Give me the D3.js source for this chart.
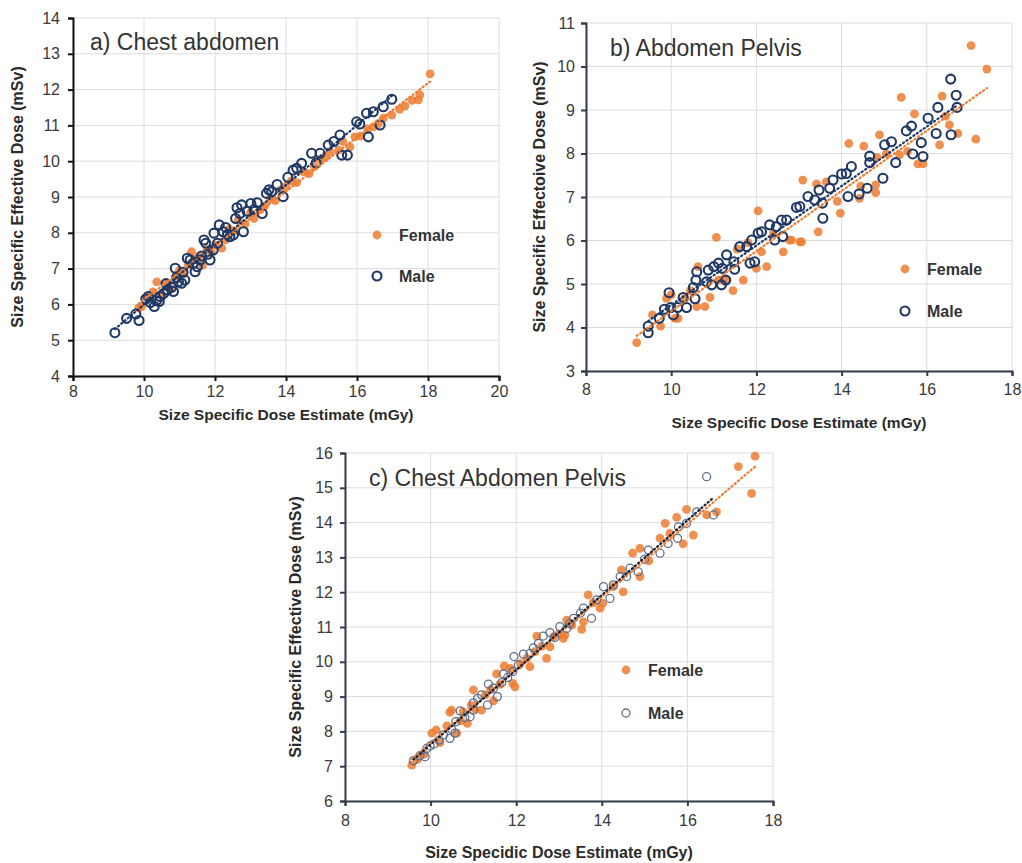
<!DOCTYPE html>
<html>
<head>
<meta charset="utf-8">
<script src="https://cdn.jsdelivr.net/npm/d3@7/dist/d3.min.js"></script>
<style>
    body { margin: 0; background: #fff; }
    text { font-family: Arial, "Liberation Sans", sans-serif; }
</style>
</head>
<body>
<svg id="chart" width="1022" height="863"></svg>
<script>
// a) Chest abdomen
var aMale = [[9.18,5.21],[9.51,5.61],[9.77,5.73],[9.86,5.55],[10.05,6.15],[10.12,6.22],[10.18,6.05],[10.29,5.94],[10.35,6.10],[10.43,6.08],
    [10.45,6.22],[10.55,6.30],[10.66,6.40],[10.78,6.48],[10.83,6.36],[10.88,7.01],[10.92,6.75],[10.97,6.63],[11.06,6.59],[11.15,6.68],
    [11.22,7.29],[11.30,7.24],[11.39,7.15],[11.44,6.91],[11.50,7.05],[11.58,7.24],[11.69,7.80],[11.74,7.71],[11.80,7.40],[11.86,7.24],
    [11.95,7.52],[11.97,7.99],[12.07,7.71],[12.12,8.22],[12.23,8.03],[12.35,7.95],[12.42,7.89],[12.52,7.94],[12.58,8.40],[12.70,8.54],
    [12.75,8.78],[12.80,8.03],[12.90,8.60],[13.01,8.82],[13.19,8.84],[13.33,8.54],[13.45,9.10],[13.60,9.15],[13.75,9.35],[13.92,9.01],
    [14.05,9.55],[14.20,9.75],[14.30,9.80],[14.44,9.94],[14.72,10.22],[14.85,9.95],[14.96,10.22],[15.19,10.45],[15.35,10.55],[15.52,10.73],
    [15.57,10.17],[15.73,10.17],[15.99,11.10],[16.08,11.04],[16.27,11.34],[16.32,10.68],[16.46,11.38],[16.65,11.01],[16.74,11.52],[16.98,11.73],
    [10.62,6.58],[11.10,6.90],[11.62,7.35],[12.30,8.15],[12.62,8.70],[13.10,8.65],[13.52,9.20]];
var aFemale = [[9.85,5.90],[9.93,5.94],[10.10,6.20],[10.25,6.35],[10.36,6.63],[10.50,6.25],[10.62,6.55],[10.75,6.45],[10.90,6.80],[11.00,6.95],
    [11.12,6.85],[11.25,7.10],[11.34,7.47],[11.42,7.25],[11.55,7.35],[11.65,7.10],[11.78,7.55],[11.90,7.45],[12.02,7.65],[12.19,7.57],
    [12.30,7.80],[12.40,8.10],[12.55,8.05],[12.65,8.35],[12.85,8.25],[13.00,8.55],[13.10,8.40],[13.27,8.64],[13.40,8.75],[13.55,8.95],
    [13.70,8.90],[13.85,9.20],[14.00,9.30],[14.15,9.45],[14.30,9.40],[14.50,9.70],[14.65,9.65],[14.80,9.85],[14.95,10.05],[15.10,10.10],
    [15.25,10.25],[15.48,10.31],[15.60,10.55],[15.80,10.40],[15.94,10.68],[16.10,10.70],[16.30,10.90],[16.46,10.96],[16.60,11.05],[16.74,11.20],
    [16.98,11.29],[17.20,11.45],[17.35,11.54],[17.55,11.70],[17.73,11.71],[17.77,11.85],[18.06,12.44]];
var aXTicks = [8, 10, 12, 14, 16, 18, 20];
var aYTicks = [4, 5, 6, 7, 8, 9, 10, 11, 12, 13, 14];

// b) Abdomen Pelvis
var bMale = [[9.46,4.03],[9.46,3.88],[9.72,4.21],[9.84,4.42],[9.95,4.80],[9.99,4.46],[10.05,4.29],[10.15,4.46],[10.28,4.69],[10.36,4.46],
    [10.52,4.92],[10.56,4.66],[10.58,5.09],[10.60,5.28],[10.83,5.05],[10.87,5.32],[10.95,4.98],[11.00,5.40],[11.11,5.48],[11.18,4.98],
    [11.20,5.36],[11.28,5.09],[11.30,5.67],[11.47,5.51],[11.49,5.34],[11.61,5.86],[11.77,5.86],[11.85,5.48],[11.89,6.01],[11.96,5.51],
    [12.04,6.17],[12.12,6.20],[12.31,6.36],[12.43,6.01],[12.47,6.32],[12.59,6.47],[12.62,6.09],[12.71,6.47],[12.94,6.76],[13.02,6.78],
    [13.21,7.01],[13.37,6.93],[13.47,7.16],[13.55,6.86],[13.56,6.51],[13.72,7.20],[13.80,7.39],[14.00,7.53],[14.11,7.54],[14.15,7.01],
    [14.23,7.70],[14.41,7.07],[14.60,7.20],[14.66,7.94],[14.66,7.79],[14.97,7.43],[15.01,8.20],[15.17,8.27],[15.27,7.79],[15.52,8.52],
    [15.64,8.63],[15.67,7.99],[15.87,8.25],[15.91,7.93],[16.03,8.81],[16.22,8.46],[16.26,9.06],[16.56,9.71],[16.57,8.43],[16.69,9.34],[16.71,9.06]];
var bFemale = [[9.19,3.65],[9.56,4.29],[9.75,4.03],[9.89,4.67],[10.00,4.75],[10.09,4.21],[10.16,4.21],[10.32,4.67],[10.45,4.85],[10.60,4.48],
    [10.63,5.40],[10.79,4.48],[10.91,4.69],[11.06,6.07],[11.11,5.09],[11.30,5.09],[11.45,4.85],[11.55,5.80],[11.69,5.09],[11.80,5.95],
    [12.00,5.36],[12.04,6.68],[12.12,5.74],[12.24,5.40],[12.40,6.15],[12.63,5.74],[12.78,6.01],[12.82,6.01],[13.02,5.97],[13.06,5.97],
    [13.09,7.39],[13.41,7.30],[13.45,6.20],[13.64,7.35],[13.90,6.90],[13.97,6.63],[14.17,8.23],[14.42,6.97],[14.45,7.25],[14.52,8.17],
    [14.80,7.28],[14.80,7.10],[14.83,7.91],[14.89,8.43],[15.05,7.99],[15.36,7.97],[15.40,9.29],[15.55,8.05],[15.71,8.91],[15.79,7.76],
    [15.91,7.76],[16.30,8.20],[16.36,9.32],[16.44,8.86],[16.53,8.66],[16.73,8.46],[17.04,10.48],[17.15,8.33],[17.41,9.94]];
var bXTicks = [8, 10, 12, 14, 16, 18];
var bYTicks = [3, 4, 5, 6, 7, 8, 9, 10, 11];

// c) Chest Abdomen Pelvis
var cMale = [[9.60,7.16],[9.75,7.30],[9.87,7.27],[9.91,7.51],[9.99,7.58],[10.08,7.64],[10.20,7.75],[10.30,7.90],[10.45,7.80],[10.49,8.06],
    [10.57,7.95],[10.59,8.28],[10.69,8.59],[10.80,8.40],[10.92,8.42],[11.00,8.61],[11.00,8.82],[11.10,8.95],[11.19,9.05],[11.33,8.76],
    [11.35,9.36],[11.47,9.24],[11.56,9.00],[11.66,9.40],[11.70,9.65],[11.80,9.55],[11.92,9.72],[11.95,10.15],[12.05,9.91],[12.17,10.22],
    [12.32,10.24],[12.40,10.40],[12.52,10.53],[12.63,10.74],[12.79,10.84],[12.90,10.70],[13.02,11.01],[13.18,10.96],[13.25,11.10],[13.34,11.25],
    [13.50,11.40],[13.57,11.54],[13.76,11.25],[13.88,11.78],[14.04,12.16],[14.19,11.82],[14.27,12.21],[14.43,12.45],[14.58,12.45],[14.66,12.69],
    [14.85,12.59],[15.00,12.95],[15.09,13.21],[15.36,13.12],[15.55,13.40],[15.77,13.55],[15.79,13.88],[15.98,13.98],[16.22,14.31],[16.45,15.32],[16.61,14.22]];
var cFemale = [[9.56,7.03],[9.70,7.20],[9.85,7.35],[10.03,7.95],[10.13,8.04],[10.22,7.68],[10.38,8.16],[10.45,8.55],[10.49,8.61],[10.61,7.95],
    [10.70,8.30],[10.76,8.57],[10.86,8.23],[10.95,8.75],[11.00,9.19],[11.04,8.64],[11.19,8.61],[11.28,9.05],[11.40,9.20],[11.47,8.88],
    [11.54,9.65],[11.62,9.35],[11.72,9.88],[11.86,9.81],[11.92,9.38],[11.97,9.28],[12.10,9.95],[12.25,10.10],[12.32,9.86],[12.44,10.29],
    [12.48,10.74],[12.60,10.45],[12.71,10.10],[12.79,10.43],[12.87,10.72],[13.00,10.80],[13.10,10.67],[13.14,10.77],[13.18,11.20],[13.30,11.05],
    [13.53,10.93],[13.57,11.15],[13.68,11.92],[13.80,11.70],[13.96,11.54],[14.02,11.68],[14.27,12.16],[14.46,12.64],[14.50,12.01],[14.72,13.12],
    [14.89,13.26],[14.89,12.45],[15.10,12.90],[15.36,13.55],[15.48,13.98],[15.59,13.69],[15.75,14.15],[15.90,13.39],[15.98,14.38],[16.14,13.64],
    [16.45,14.22],[16.68,14.31],[17.19,15.61],[17.50,14.84],[17.58,15.91]];
var cXTicks = [8, 10, 12, 14, 16, 18];
var cYTicks = [6, 7, 8, 9, 10, 11, 12, 13, 14, 15, 16];

var FEMALE_COLOR = "#ED7D31";
var MALE_COLOR = "#1F3864";

var ScatterPanel = function ScatterPanel(svg, options) {
    this.options = options;
    this.svg = svg.append("g").attr("class", "panel");

    this.x = d3.scaleLinear()
        .domain(d3.extent(options.xTicks))
        .range(options.xRange);
    this.y = d3.scaleLinear()
        .domain(d3.extent(options.yTicks))
        .range(options.yRange);
};

// least squares fit, like the excel linear trendline
ScatterPanel.prototype.fit = function fit(points) {
    let mx = d3.mean(points, function (p) { return p[0]; });
    let my = d3.mean(points, function (p) { return p[1]; });
    let sxy = d3.sum(points, function (p) { return (p[0] - mx) * (p[1] - my); });
    let sxx = d3.sum(points, function (p) { return (p[0] - mx) * (p[0] - mx); });
    let slope = sxy / sxx;
    return {slope: slope, intercept: my - slope * mx};
};

ScatterPanel.prototype.render = function render() {
    let self = this;
    let o = self.options;
    let x = self.x, y = self.y;

    // grid
    self.svg.append("g").selectAll("line.vgrid")
        .data(o.xTicks)
        .enter().append("line")
        .attr("x1", function (d) { return x(d); })
        .attr("x2", function (d) { return x(d); })
        .attr("y1", o.yRange[0])
        .attr("y2", o.yRange[1])
        .style("stroke", "#dcdcdc")
        .style("stroke-width", 1);

    self.svg.append("g").selectAll("line.hgrid")
        .data(o.yTicks)
        .enter().append("line")
        .attr("x1", o.xRange[0])
        .attr("x2", o.xRange[1])
        .attr("y1", function (d) { return y(d); })
        .attr("y2", function (d) { return y(d); })
        .style("stroke", "#dcdcdc")
        .style("stroke-width", 1);

    // axes
    let xAxis = self.svg.append("g")
        .attr("transform", "translate(0," + o.yRange[0] + ")")
        .call(d3.axisBottom(x).tickValues(o.xTicks).tickSize(5).tickPadding(o.xPad).tickSizeOuter(5));
    let yAxis = self.svg.append("g")
        .attr("transform", "translate(" + o.xRange[0] + ",0)")
        .call(d3.axisLeft(y).tickValues(o.yTicks).tickSize(5).tickPadding(o.yPad).tickSizeOuter(5));

    [xAxis, yAxis].forEach(function (ax) {
        ax.select(".domain").style("stroke", o.axisColor).style("stroke-width", 2);
        ax.selectAll(".tick line").style("stroke", o.axisColor).style("stroke-width", 2);
        ax.selectAll(".tick text")
            .style("font-family", "Arial, 'Liberation Sans', sans-serif")
            .style("font-size", "16px")
            .style("fill", "#3a3a3a");
    });

    // points
    self.svg.append("g").selectAll("circle.female")
        .data(o.female)
        .enter().append("circle")
        .attr("cx", function (d) { return x(d[0]); })
        .attr("cy", function (d) { return y(d[1]); })
        .attr("r", 4.4)
        .style("fill", FEMALE_COLOR)
        .style("fill-opacity", 0.85);

    self.svg.append("g").selectAll("circle.male")
        .data(o.male)
        .enter().append("circle")
        .attr("cx", function (d) { return x(d[0]); })
        .attr("cy", function (d) { return y(d[1]); })
        .attr("r", o.maleR)
        .style("fill", "none")
        .style("stroke", o.maleColor)
        .style("stroke-width", o.maleStroke);

    // dotted trendlines
    let line = d3.line()
        .x(function (d) { return x(d[0]); })
        .y(function (d) { return y(d[1]); });

    [[o.female, FEMALE_COLOR], [o.male, o.trendColor]].forEach(function (s) {
        let f = self.fit(s[0]);
        let ext = d3.extent(s[0], function (p) { return p[0]; });
        let pts = ext.map(function (v) { return [v, f.slope * v + f.intercept]; });
        self.svg.append("path")
            .attr("d", line(pts))
            .style("fill", "none")
            .style("stroke", s[1])
            .style("stroke-width", 2.2)
            .style("stroke-dasharray", "1.2,3")
            .style("stroke-linecap", "round");
    });

    // panel title
    self.svg.append("text")
        .attr("x", o.title.x)
        .attr("y", o.title.y)
        .style("font-size", "23px")
        .style("fill", "#333")
        .text(o.title.text);

    // axis titles
    self.svg.append("text")
        .attr("x", (o.xRange[0] + o.xRange[1]) / 2 + o.xTitle.dx)
        .attr("y", o.xTitle.y)
        .attr("text-anchor", "middle")
        .style("font-size", o.xTitle.size + "px")
        .style("font-weight", "bold")
        .style("fill", "#2b2b2b")
        .text(o.xTitle.text);

    self.svg.append("text")
        .attr("transform", "translate(" + o.yTitle.x + "," + ((o.yRange[0] + o.yRange[1]) / 2) + ") rotate(-90)")
        .attr("text-anchor", "middle")
        .style("font-size", o.yTitle.size + "px")
        .style("font-weight", "bold")
        .style("fill", "#2b2b2b")
        .text(o.yTitle.text);

    // legend
    let lg = self.svg.append("g")
        .attr("transform", "translate(" + o.legend.x + "," + o.legend.y + ")");
    lg.append("circle").attr("cx", 0).attr("cy", 0).attr("r", 4.4)
        .style("fill", FEMALE_COLOR).style("fill-opacity", 0.85);
    lg.append("circle").attr("cx", 0).attr("cy", o.legend.gap).attr("r", o.maleR)
        .style("fill", "none").style("stroke", o.maleColor).style("stroke-width", o.maleStroke);
    lg.selectAll("text")
        .data(["Female", "Male"])
        .enter().append("text")
        .attr("x", 22)
        .attr("y", function (d, i) { return i * o.legend.gap; })
        .attr("dy", "0.35em")
        .style("font-size", "16px")
        .style("font-weight", "bold")
        .style("fill", "#333")
        .text(function (d) { return d; });
};

var svg = d3.select("#chart");

new ScatterPanel(svg, {
    male: aMale, female: aFemale, xTicks: aXTicks, yTicks: aYTicks,
    xRange: [73, 499], yRange: [376, 18], xPad: 5, yPad: 8,
    axisColor: "#111", maleColor: MALE_COLOR, trendColor: MALE_COLOR, maleR: 4.5, maleStroke: 2.1,
    title: {text: "a) Chest abdomen", x: 90, y: 50},
    xTitle: {text: "Size Specific Dose Estimate (mGy)", y: 420, dx: 0, size: 15.5},
    yTitle: {text: "Size Specific Effective Dose (mSv)", x: 23, size: 16},
    legend: {x: 377, y: 235, gap: 41}
}).render();

new ScatterPanel(svg, {
    male: bMale, female: bFemale, xTicks: bXTicks, yTicks: bYTicks,
    xRange: [586, 1012], yRange: [371, 23], xPad: 8, yPad: 6,
    axisColor: "#333d4f", maleColor: MALE_COLOR, trendColor: MALE_COLOR, maleR: 4.5, maleStroke: 2.1,
    title: {text: "b) Abdomen Pelvis", x: 610, y: 56},
    xTitle: {text: "Size Specific Dose Estimate (mGy)", y: 428, dx: 0, size: 15.5},
    yTitle: {text: "Size Specific Effectoive Dose (mSv)", x: 545, size: 16},
    legend: {x: 905, y: 269, gap: 42}
}).render();

new ScatterPanel(svg, {
    male: cMale, female: cFemale, xTicks: cXTicks, yTicks: cYTicks,
    xRange: [345, 773], yRange: [801, 453], xPad: 9, yPad: 7,
    axisColor: "#333d4f", maleColor: "#5f6e8c", trendColor: "#1a2238", maleR: 4, maleStroke: 1.3,
    title: {text: "c) Chest Abdomen Pelvis", x: 369, y: 486},
    xTitle: {text: "Size Specidic Dose Estimate (mGy)", y: 858, dx: 0, size: 16},
    yTitle: {text: "Size Specific Effective Dose (mSv)", x: 301, size: 16},
    legend: {x: 626, y: 670, gap: 43}
}).render();
</script>
</body>
</html>
